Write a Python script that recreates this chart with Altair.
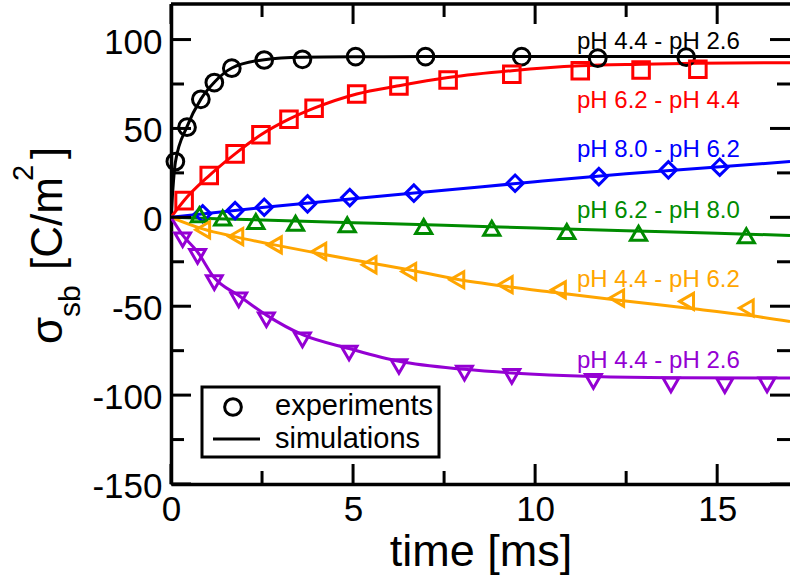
import altair as alt
import pandas as pd

# ---------------- data ----------------
series_keys = ["s1", "s2", "s3", "s4", "s5", "s6"]
series_labels = ["pH 4.4 - pH 2.6", "pH 6.2 - pH 4.4", "pH 8.0 - pH 6.2",
                 "pH 6.2 - pH 8.0", "pH 4.4 - pH 6.2", "pH 4.4 - pH 2.6"]
series_colors = ["#000000", "#ff0000", "#0000ff", "#008b00", "#ffa500", "#9400d3"]
series_shapes = ["circle", "square", "diamond", "triangle-up", "triangle-left", "triangle-down"]
series_sizes = [280, 250, 290, 320, 320, 320]

# experiments (markers)
exp_t = {
    "s1": [0.12, 0.44, 0.82, 1.19, 1.67, 2.56, 3.61, 5.07, 6.99, 9.63, 11.72, 14.15],
    "s2": [0.36, 1.05, 1.76, 2.47, 3.24, 3.93, 5.1, 6.26, 7.61, 9.36, 11.24, 12.91, 14.47],
    "s3": [0.87, 1.76, 2.56, 3.75, 4.91, 6.67, 9.45, 11.75, 13.66, 15.07],
    "s4": [0.78, 1.42, 2.33, 3.42, 4.84, 6.94, 8.81, 10.87, 12.84, 15.8],
    "s5": [0.87, 1.78, 2.84, 4.06, 5.44, 6.53, 7.85, 9.18, 10.64, 12.24, 14.16, 15.8],
    "s6": [0.32, 0.73, 1.19, 1.86, 2.62, 3.61, 4.89, 6.26, 8.06, 9.36, 11.6, 13.73, 15.21, 16.37],
}
exp_v = {
    "s1": [31.4, 50.7, 66.4, 75.8, 83.9, 88.5, 88.9, 90.4, 90.4, 90.4, 89.5, 90.1],
    "s2": [9.4, 23.5, 35.7, 46.4, 55.2, 61.4, 69.4, 73.9, 77.3, 80.5, 82.4, 82.9, 83.3],
    "s3": [2.0, 3.8, 5.7, 7.6, 11.1, 13.6, 19.2, 22.9, 26.7, 28.2],
    "s4": [1.4, -0.4, -2.4, -3.3, -4.2, -5.2, -6.1, -8.0, -8.9, -10.4],
    "s5": [-7.0, -10.8, -15.5, -19.2, -26.7, -30.5, -35.1, -37.9, -40.8, -45.4, -47.3, -51.0],
    "s6": [-12.6, -22.0, -36.7, -46.4, -57.6, -68.9, -76.3, -83.9, -87.6, -89.5, -92.3, -94.2, -94.7, -94.2],
}

# simulations (lines)
sim_t = {
    "s1": [0, 0.12, 0.44, 0.82, 1.19, 1.67, 2.56, 3.6, 5.0, 7.0, 17],
    "s2": [0, 0.36, 1.05, 1.76, 2.47, 3.24, 3.93, 5.1, 6.26, 7.61, 9.36, 11.24, 12.91, 14.47, 17],
    "s3": [0, 2.5, 5, 7.5, 10, 12.5, 15, 17],
    "s4": [0, 2.5, 5, 7.5, 10, 12.5, 15, 17],
    "s5": [0, 0.87, 1.78, 2.84, 4.06, 5.44, 6.53, 7.85, 9.18, 10.64, 12.24, 14.16, 15.8, 17],
    "s6": [0, 0.32, 0.73, 1.19, 1.86, 2.62, 3.61, 4.89, 6.26, 8.06, 9.36, 11.6, 13.73, 17],
}
sim_v = {
    "s1": [0, 31, 51, 66.5, 76, 84, 88.7, 90.0, 90.3, 90.4, 90.4],
    "s2": [0, 9.5, 23.5, 35.7, 46.4, 55.2, 61.4, 69.4, 74.0, 78.6, 82.5, 85.2, 86.1, 86.7, 87.0],
    "s3": [0, 5.5, 10.5, 15.2, 20.0, 24.5, 28.3, 31.4],
    "s4": [0, -1.5, -3.0, -4.5, -6.0, -7.5, -8.9, -10.2],
    "s5": [0, -6.5, -11, -15.5, -20.3, -25.5, -29.5, -34.8, -38.8, -42.5, -46.5, -51, -55, -58.6],
    "s6": [0, -10, -19.5, -34, -44, -55, -66, -73.8, -81, -85.5, -87.5, -89.5, -90.2, -90.4],
}

# label anchors (data coordinates)
label_t = [11.15, 11.15, 11.15, 11.15, 11.15, 11.15]
label_v = [94.7, 61.3, 34.1, -0.5, -39.0, -85.0]

x_major = [0, 5, 10, 15]
x_minor = [2.5, 7.5, 12.5]
y_major = [-150, -100, -50, 0, 50, 100]
y_minor = [-125, -75, -25, 25, 75]

# ---------------- tables ----------------
pts = pd.DataFrame([
    {"series": k, "t": t, "v": v}
    for k in series_keys for t, v in zip(exp_t[k], exp_v[k])
])
lines = pd.DataFrame([
    {"series": k, "t": t, "v": v, "i": i}
    for k in series_keys for i, (t, v) in enumerate(zip(sim_t[k], sim_v[k]))
])
labels = pd.DataFrame({"series": series_keys, "label": series_labels,
                       "t": label_t, "v": label_v})

W, H = 619, 480
FONT = "Liberation Sans"
HYPHEN_LABEL = "datum.value < 0 ? '-' + abs(datum.value) : '' + datum.value"

xscale = alt.Scale(domain=[0, 17], nice=False, zero=False)
yscale = alt.Scale(domain=[-150, 120], nice=False, zero=False)
cscale = alt.Scale(domain=series_keys, range=series_colors)
shscale = alt.Scale(domain=series_keys, range=series_shapes)
szscale = alt.Scale(domain=series_keys, range=series_sizes)

xaxis = alt.Axis(values=x_major, ticks=False, grid=False, domainColor="black",
                 domainWidth=3.5, labelFontSize=35, labelColor="black",
                 labelPadding=8, labelFont=FONT, labelFlush=False, labelOverlap=False,
                 labelExpr=HYPHEN_LABEL, title="time [ms]",
                 titleFontSize=45, titleFontWeight="normal", titleColor="black",
                 titleFont=FONT, titleBaseline="alphabetic", titleY=81)
yaxis = alt.Axis(values=y_major, ticks=False, grid=False, domainColor="black",
                 domainWidth=3.5, labelFontSize=35, labelColor="black",
                 labelPadding=9, labelFont=FONT, labelOffset=2.5, labelFlush=False,
                 labelOverlap=False, labelExpr=HYPHEN_LABEL, title=None)


def X(field="t:Q"):
    return alt.X(field, scale=xscale, axis=xaxis)


def Y(field="v:Q"):
    return alt.Y(field, scale=yscale, axis=yaxis)


line_layer = alt.Chart(lines).mark_line(strokeWidth=3, interpolate="monotone", clip=True).encode(
    x=X(), y=Y(),
    color=alt.Color("series:N", scale=cscale, legend=None),
    order=alt.Order("i:Q"),
)

point_layer = alt.Chart(pts).mark_point(filled=False, strokeWidth=3, opacity=1).encode(
    x=X(), y=Y(),
    color=alt.Color("series:N", scale=cscale, legend=None),
    shape=alt.Shape("series:N", scale=shscale, legend=None),
    size=alt.Size("series:N", scale=szscale, legend=None),
)

label_layer = alt.Chart(labels).mark_text(align="left", baseline="alphabetic",
                                          fontSize=24, font=FONT).encode(
    x=X(), y=Y(),
    text="label:N",
    color=alt.Color("series:N", scale=cscale, legend=None),
)


def hticks(vals, x0, x1):
    return alt.Chart(pd.DataFrame({"v": vals})).mark_rule(strokeWidth=3, color="black").encode(
        y=Y(), x=alt.value(x0), x2=alt.value(x1))


def vticks(vals, y0, y1):
    return alt.Chart(pd.DataFrame({"t": vals})).mark_rule(strokeWidth=3, color="black").encode(
        x=X(), y=alt.value(y0), y2=alt.value(y1))


tick_layers = [
    hticks(y_major, 0, 20), hticks(y_minor, 0, 13),
    hticks(y_major, W, W - 20), hticks(y_minor, W, W - 13),
    vticks(x_major, H, H - 20), vticks(x_minor, H, H - 13),
    vticks(x_major, 0, 20), vticks(x_minor, 0, 13),
]

dummy = pd.DataFrame({"a": [0]})
top_frame = alt.Chart(dummy).mark_rule(strokeWidth=3.5, color="black").encode(
    x=alt.value(0), x2=alt.value(W), y=alt.value(0))

# legend box
leg_box = alt.Chart(dummy).mark_rect(fill="white", stroke="black", strokeWidth=3).encode(
    x=alt.value(31), x2=alt.value(268), y=alt.value(383), y2=alt.value(453))
leg_pt = alt.Chart(dummy).mark_point(shape="circle", filled=False, strokeWidth=3,
                                     color="black", size=280, opacity=1).encode(
    x=alt.value(62), y=alt.value(403))
leg_line = alt.Chart(dummy).mark_rule(strokeWidth=3, color="black").encode(
    x=alt.value(42), x2=alt.value(89), y=alt.value(435))
leg_t1 = alt.Chart(dummy).mark_text(text="experiments", align="left", baseline="alphabetic",
                                    fontSize=29, font=FONT, color="black").encode(
    x=alt.value(104), y=alt.value(411))
leg_t2 = alt.Chart(dummy).mark_text(text="simulations", align="left", baseline="alphabetic",
                                    fontSize=29, font=FONT, color="black").encode(
    x=alt.value(104), y=alt.value(444))


# y-axis title made of pieces (subscript / superscript)
def ytitle(txt, size, bx, sy):
    return alt.Chart(dummy).mark_text(text=txt, angle=270, align="left", baseline="alphabetic",
                                      fontSize=size, font=FONT, color="black").encode(
        x=alt.value(bx), y=alt.value(sy))


title_layers = [
    ytitle("σ", 44, -109, 340),
    ytitle("sb", 30, -91, 313),
    ytitle("[C/m", 44, -109, 266),
    ytitle("2", 29, -138, 177),
    ytitle("]", 44, -109, 155),
]

chart = alt.layer(
    line_layer, *tick_layers, top_frame, point_layer, label_layer,
    leg_box, leg_pt, leg_line, leg_t1, leg_t2, *title_layers
).properties(
    width=W, height=H,
    padding={"left": 171, "top": 4, "right": 0, "bottom": 91},
    autosize=alt.AutoSizeParams(type="none"),
).configure_view(stroke=None).configure(font=FONT, background="white")

chart.save("out.html", embed_options={"renderer": "svg", "actions": False})
